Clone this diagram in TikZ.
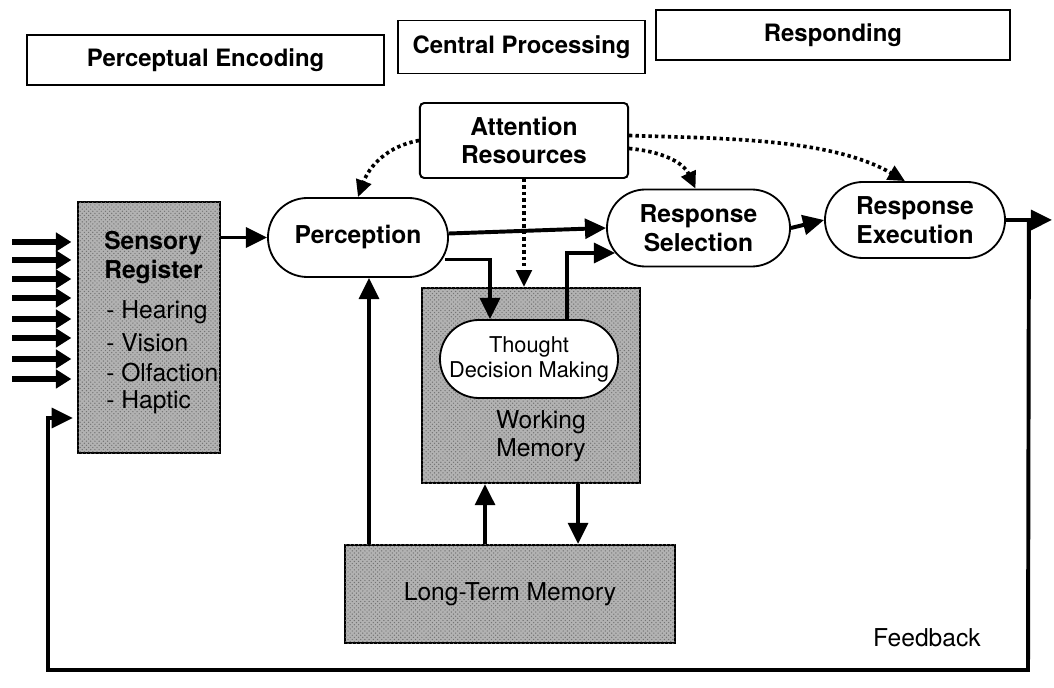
\documentclass[tikz,border=0pt]{standalone}
\usepackage{fontspec}
\setmainfont{TeX Gyre Heros}
\usetikzlibrary{arrows.meta,shapes.misc,calc,patterns}

\begin{document}
\begin{tikzpicture}[
  x=0.025cm, y=-0.025cm,
  boldtext/.style={font=\fontsize{17.5}{20.5}\selectfont\bfseries},
  plaintext/.style={font=\fontsize{17.5}{20}\selectfont},
  hdr/.style={draw, line width=1.4pt, fill=white, inner sep=0pt,
    font=\fontsize{17}{20}\selectfont\bfseries},
  pill/.style={draw, rounded rectangle, line width=1.3pt, fill=white,
    align=center, inner sep=0pt, boldtext},
  shaded/.style={draw, line width=1.4pt, fill=black!30, inner sep=0pt,
    postaction={pattern=crosshatch dots, pattern color=black!55}},
  flow/.style={line width=2.8pt, line join=miter,
    -{Triangle[length=15pt,width=14pt]}},
  input/.style={line width=4.6pt, -{Triangle[length=11pt,width=13pt]}},
  att/.style={line width=2.6pt, dash pattern=on 2.4pt off 2.2pt,
    -{Triangle[length=12pt,width=11pt]}}
]
\useasboundingbox (0,0) rectangle (1054,688);

% stage headers
\node[hdr, minimum width=8.925cm, minimum height=1.25cm] (pe) at (205.5,60) {Perceptual Encoding};
\node[hdr, minimum width=6.175cm, minimum height=1.325cm] (cp) at (521.5,47) {Central Processing};
\node[hdr, minimum width=8.85cm, minimum height=1.25cm] (rs) at (833,35) {Responding};

% sensory register
\node[shaded, minimum width=3.55cm, minimum height=6.275cm] (sens) at (149,327.5) {};
\node[boldtext, anchor=west, inner sep=0pt] (s1) at (104,243) {Sensory};
\node[boldtext, anchor=west, inner sep=0pt] (s2) at (104,272) {Register};
\node[plaintext, anchor=west, inner sep=0pt] (s3) at (106,312) {- Hearing};
\node[plaintext, anchor=west, inner sep=0pt] (s4) at (106,343) {- Vision};
\node[plaintext, anchor=west, inner sep=0pt] (s5) at (106,373) {- Olfaction};
\node[plaintext, anchor=west, inner sep=0pt] (s6) at (106,402) {- Haptic};

% processing stages
\node[pill, minimum width=4.5cm, minimum height=1.975cm] (perc) at (358,237.5) {Perception};
\node[pill, minimum width=4.575cm, minimum height=1.925cm] (rsel) at (698.5,228) {Response\\Selection};
\node[pill, minimum width=4.5cm, minimum height=1.9cm] (rexe) at (915,220) {Response\\Execution};
\node[draw, rounded corners=3pt, line width=1.4pt, fill=white, align=center,
  inner sep=0pt, boldtext, minimum width=5.2cm, minimum height=1.875cm] (attn) at (524,140.5) {Attention\\Resources};

% memories
\node[shaded, minimum width=5.45cm, minimum height=4.875cm] (wm) at (531,385.5) {};
\node[pill, font=\fontsize{15.5}{17.8}\selectfont, minimum width=4.45cm, minimum height=1.95cm] (thought) at (529,359) {Thought\\Decision Making};
\node[plaintext, align=center, inner sep=0pt] (wmlab) at (541,436) {Working\\Memory};
\node[shaded, plaintext, minimum width=8.25cm, minimum height=2.45cm] (ltm) at (510,594) {Long-Term Memory};

\node[plaintext, inner sep=0pt] (fbl) at (927,638) {Feedback};

% stimuli entering the sensory register
\foreach \i/\yy in {1/242,2/260,3/279,4/298,5/319,6/338,7/359,8/379} {
  \coordinate (in\i) at (12,\yy);
  \draw[input, shorten >=4pt] (in\i) -- (in\i -| sens.west);
}

% main flow
\draw[flow] (sens.east |- perc.west) -- (perc.west);
\draw[flow] ($(perc.east)+(0,-4)$) -- (rsel.west);
\draw[flow] ($(perc.east)+(-4,22)$) -| ($(thought.north)+(-39,0)$);
\draw[flow] ($(thought.north)+(38,0)$) |- ($(rsel.west)+(9,25)$);
\draw[flow] (rsel.east) -- (rexe.west);

% memory exchanges
\coordinate (lp) at ($(ltm.north west)+(25,0)$);
\coordinate (lw) at ($(ltm.north)+(-25,0)$);
\coordinate (wl) at ($(wm.south)+(47,0)$);
\draw[flow] (lp) -- (lp |- perc.south);
\draw[flow] (lw) -- (lw |- wm.south);
\draw[flow] (wl) -- (wl |- ltm.north);

% output and feedback loop
\coordinate (out) at (1052,220);
\coordinate (fbtop) at ($(rexe.east)+(23,0)$);
\coordinate (fbbot) at (1028,670);
\coordinate (fbleft) at (48,670);
\coordinate (fbin) at (48,418);
\draw[flow] (rexe.east) -- (out);
\draw[flow, shorten >=3pt] (fbtop) -- (fbbot) -- (fbleft) -- (fbin) -- (fbin -| sens.west);

% attention allocation
\draw[att] (attn.west) to[out=190, in=70] (perc.north);
\draw[att] (attn.south) -- (attn.south |- wm.north);
\draw[att] ($(attn.east)+(0,8)$) to[out=-5, in=115] ($(rsel.north)+(-3,0)$);
\draw[att] ($(attn.east)+(0,-5)$) to[out=-2, in=150, looseness=0.8] ($(rexe.north)+(-10,0)$);
\end{tikzpicture}
\end{document}
